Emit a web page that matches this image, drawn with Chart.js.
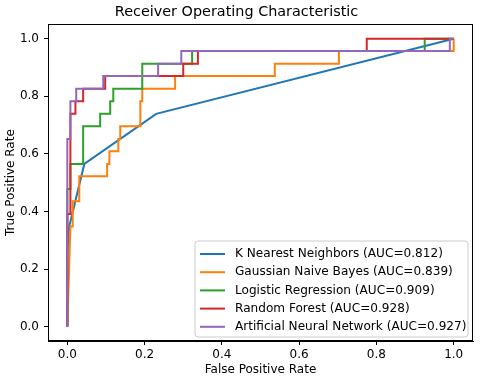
<!DOCTYPE html>
<html>
<head>
<meta charset="utf-8">
<script src="https://cdn.jsdelivr.net/npm/chart.js@4/dist/chart.umd.min.js"></script>
<style>
  html, body { margin: 0; padding: 0; background: #fff; }
  #wrap { width: 480px; height: 380px; }
</style>
</head>
<body>
<div id="wrap"><canvas id="c" width="480" height="380"></canvas></div>
<script>
// ---- data ----
const chartTitle = "Receiver Operating Characteristic";
const xAxisTitle = "False Positive Rate";
const yAxisTitle = "True Positive Rate";
const xTickValues = [0, 0.2, 0.4, 0.6, 0.8, 1.0];
const yTickValues = [0, 0.2, 0.4, 0.6, 0.8, 1.0];

const seriesNames = [
  "K Nearest Neighbors (AUC=0.812)",
  "Gaussian Naive Bayes (AUC=0.839)",
  "Logistic Regression (AUC=0.909)",
  "Random Forest (AUC=0.928)",
  "Artificial Neural Network (AUC=0.927)"
];
const seriesColors = ["#1f77b4", "#ff7f0e", "#2ca02c", "#d62728", "#9467bd"];

const knnFpr = [0, 0, 0.005, 0.044, 0.23, 1];
const knnTpr = [0, 0.261, 0.348, 0.565, 0.739, 1];

const gnbFpr = [0, 0.005, 0.008, 0.014, 0.014, 0.031, 0.031, 0.103, 0.103, 0.109, 0.109, 0.132, 0.132, 0.137, 0.137, 0.189, 0.189, 0.194, 0.194, 0.279, 0.279, 0.537, 0.537, 0.703, 0.703, 1, 1];
const gnbTpr = [0, 0.217, 0.348, 0.348, 0.435, 0.435, 0.522, 0.522, 0.565, 0.565, 0.609, 0.609, 0.652, 0.652, 0.696, 0.696, 0.783, 0.783, 0.826, 0.826, 0.870, 0.870, 0.913, 0.913, 0.957, 0.957, 1];

const lrFpr = [0, 0, 0.008, 0.008, 0.041, 0.041, 0.085, 0.085, 0.111, 0.111, 0.119, 0.119, 0.194, 0.194, 0.323, 0.323, 0.925, 0.925, 1];
const lrTpr = [0, 0.478, 0.478, 0.565, 0.565, 0.696, 0.696, 0.739, 0.739, 0.783, 0.783, 0.826, 0.826, 0.913, 0.913, 0.957, 0.957, 1, 1];

const rfFpr = [0, 0, 0.008, 0.008, 0.021, 0.021, 0.041, 0.041, 0.098, 0.098, 0.300, 0.300, 0.338, 0.338, 0.775, 0.775, 1];
const rfTpr = [0, 0.391, 0.391, 0.739, 0.739, 0.783, 0.783, 0.826, 0.826, 0.870, 0.870, 0.913, 0.913, 0.957, 0.957, 1, 1];

const annFpr = [0, 0, 0.008, 0.008, 0.023, 0.023, 0.093, 0.093, 0.235, 0.235, 0.295, 0.295, 0.99, 0.99, 1];
const annTpr = [0, 0.652, 0.652, 0.783, 0.783, 0.826, 0.826, 0.870, 0.870, 0.913, 0.913, 0.957, 0.957, 1, 1];

const allFpr = [knnFpr, gnbFpr, lrFpr, rfFpr, annFpr];
const allTpr = [knnTpr, gnbTpr, lrTpr, rfTpr, annTpr];

// ---- build chart ----
const FONT = "'DejaVu Sans', 'Liberation Sans', sans-serif";

const datasets = seriesNames.map((name, i) => ({
  label: name,
  data: allFpr[i].map((x, j) => ({ x: x, y: allTpr[i][j] })),
  borderColor: seriesColors[i],
  backgroundColor: seriesColors[i],
  borderWidth: 2,
  pointRadius: 0,
  pointHoverRadius: 0,
  tension: 0,
  fill: false,
  order: seriesNames.length - i,
  borderJoinStyle: 'miter',
  borderCapStyle: 'butt'
}));

const framePlugin = {
  id: 'frame',
  afterDatasetsDraw(chart) {
    const { ctx, chartArea: a } = chart;
    ctx.save();
    ctx.strokeStyle = '#000';
    ctx.lineWidth = 1;
    ctx.strokeRect(Math.round(a.left) + 0.5, Math.round(a.top) + 0.5,
                   Math.round(a.right - a.left) - 1, Math.round(a.bottom - a.top) - 1);
    ctx.restore();
  }
};

const legendPlugin = {
  id: 'insideLegend',
  afterDatasetsDraw(chart) {
    const { ctx } = chart;
    const left = 195, top = 241, right = 468, bottom = 337;
    const r = 3;
    ctx.save();
    ctx.beginPath();
    ctx.moveTo(left + r, top);
    ctx.lineTo(right - r, top);
    ctx.quadraticCurveTo(right, top, right, top + r);
    ctx.lineTo(right, bottom - r);
    ctx.quadraticCurveTo(right, bottom, right - r, bottom);
    ctx.lineTo(left + r, bottom);
    ctx.quadraticCurveTo(left, bottom, left, bottom - r);
    ctx.lineTo(left, top + r);
    ctx.quadraticCurveTo(left, top, left + r, top);
    ctx.closePath();
    ctx.fillStyle = 'rgba(255,255,255,0.8)';
    ctx.fill();
    ctx.strokeStyle = '#cccccc';
    ctx.lineWidth = 1;
    ctx.stroke();
    ctx.font = "12.1px " + FONT;
    ctx.textBaseline = 'middle';
    ctx.textAlign = 'left';
    chart.data.datasets.forEach((ds, i) => {
      const y = 254 + i * 18.2;
      ctx.strokeStyle = ds.borderColor;
      ctx.lineWidth = 2;
      ctx.beginPath();
      ctx.moveTo(200, y);
      ctx.lineTo(225, y);
      ctx.stroke();
      ctx.fillStyle = '#000';
      ctx.fillText(ds.label, 235, y);
    });
    ctx.restore();
  }
};

const tickFmt = (v) => Number(v).toFixed(1);

new Chart(document.getElementById('c'), {
  type: 'line',
  data: { datasets: datasets },
  plugins: [framePlugin, legendPlugin],
  options: {
    responsive: false,
    animation: false,
    events: [],
    layout: { padding: { left: 0, right: 7, top: 0, bottom: 0 } },
    plugins: {
      legend: { display: false },
      tooltip: { enabled: false },
      title: {
        display: true,
        text: chartTitle,
        color: '#000',
        font: { family: FONT, size: 14.4, weight: 'normal' },
        padding: { top: 4, bottom: 3 }
      }
    },
    scales: {
      x: {
        type: 'linear',
        min: -0.05,
        max: 1.05,
        afterBuildTicks(scale) { scale.ticks = xTickValues.map(v => ({ value: v })); },
        afterFit(scale) { scale.height = 39; },
        ticks: {
          color: '#000',
          font: { family: FONT, size: 12 },
          padding: 3,
          maxRotation: 0,
          autoSkip: false,
          callback: tickFmt
        },
        grid: { display: true, drawOnChartArea: false, drawTicks: true, tickLength: 4, color: '#000', tickWidth: 1 },
        border: { display: true, color: '#000', width: 1 },
        title: {
          display: true,
          text: xAxisTitle,
          color: '#000',
          font: { family: FONT, size: 12 },
          padding: { top: 0, bottom: 3 }
        }
      },
      y: {
        type: 'linear',
        min: -0.05,
        max: 1.05,
        afterBuildTicks(scale) { scale.ticks = yTickValues.map(v => ({ value: v })); },
        afterFit(scale) { scale.width = 48; },
        ticks: {
          color: '#000',
          font: { family: FONT, size: 12 },
          padding: 5,
          autoSkip: false,
          callback: tickFmt
        },
        grid: { display: true, drawOnChartArea: false, drawTicks: true, tickLength: 4, color: '#000', tickWidth: 1 },
        border: { display: true, color: '#000', width: 1 },
        title: {
          display: true,
          text: yAxisTitle,
          color: '#000',
          font: { family: FONT, size: 12 },
          padding: { top: 4, bottom: 0 }
        }
      }
    }
  }
});
</script>
</body>
</html>
